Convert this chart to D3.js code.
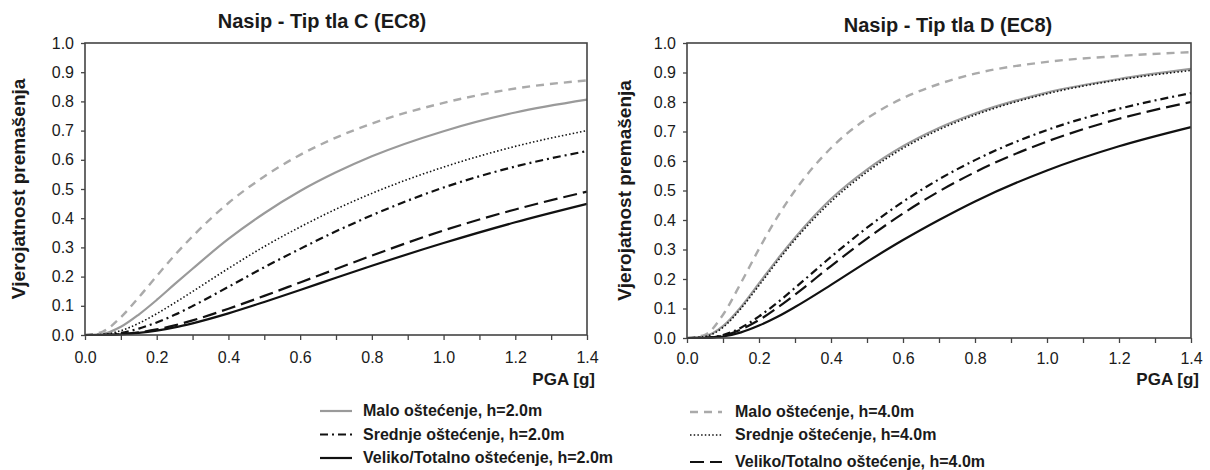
<!DOCTYPE html>
<meta charset="utf-8">
<style>
body { margin: 0; background: #fff; }
text { font-family: "Liberation Sans", Arial, sans-serif; fill: #1a1a1a; }
.tick line { stroke: #444; stroke-width: 1.3; }
.tick text { font-size: 16px; }
</style>
<body>
<script src="https://cdn.jsdelivr.net/npm/d3@7"></script>
<script>
// PGA [g] sample points
var pga = [0, 0.05, 0.1, 0.15, 0.2, 0.25, 0.3, 0.4, 0.5, 0.6, 0.7, 0.8, 1.0, 1.2, 1.4];

// Tip tla C
var cMalo2 = [0, 0.004, 0.028, 0.070, 0.120, 0.174, 0.227, 0.329, 0.417, 0.493, 0.557, 0.612, 0.698, 0.762, 0.806];
var cMalo4 = [0, 0.012, 0.061, 0.129, 0.202, 0.273, 0.338, 0.452, 0.543, 0.617, 0.676, 0.724, 0.795, 0.844, 0.872];
var cSred2 = [0, 0.001, 0.007, 0.022, 0.043, 0.069, 0.099, 0.165, 0.232, 0.295, 0.355, 0.410, 0.505, 0.577, 0.630];
var cSred4 = [0, 0.002, 0.015, 0.040, 0.073, 0.110, 0.149, 0.228, 0.303, 0.370, 0.431, 0.485, 0.575, 0.646, 0.700];
var cVel2  = [0, 0.000, 0.002, 0.007, 0.015, 0.026, 0.040, 0.074, 0.113, 0.154, 0.196, 0.237, 0.315, 0.386, 0.449];
var cVel4  = [0, 0.000, 0.003, 0.009, 0.019, 0.033, 0.050, 0.090, 0.134, 0.180, 0.226, 0.272, 0.358, 0.430, 0.491];

// Tip tla D
var dMalo2 = [0, 0.006, 0.040, 0.105, 0.185, 0.265, 0.340, 0.471, 0.571, 0.650, 0.712, 0.761, 0.832, 0.878, 0.912];
var dMalo4 = [0, 0.011, 0.079, 0.187, 0.302, 0.408, 0.500, 0.644, 0.744, 0.813, 0.861, 0.896, 0.936, 0.956, 0.969];
var dSred2 = [0, 0.001, 0.010, 0.035, 0.073, 0.119, 0.170, 0.275, 0.374, 0.462, 0.538, 0.603, 0.705, 0.777, 0.830];
var dSred4 = [0, 0.005, 0.036, 0.100, 0.178, 0.258, 0.333, 0.462, 0.563, 0.643, 0.706, 0.756, 0.828, 0.875, 0.907];
var dVel2  = [0, 0.000, 0.005, 0.019, 0.042, 0.071, 0.105, 0.180, 0.258, 0.332, 0.400, 0.463, 0.568, 0.650, 0.715];
var dVel4  = [0, 0.001, 0.008, 0.029, 0.061, 0.102, 0.147, 0.244, 0.337, 0.422, 0.497, 0.562, 0.666, 0.743, 0.800];

var xTicks = [0, 0.1, 0.2, 0.3, 0.4, 0.5, 0.6, 0.7, 0.8, 0.9, 1.0, 1.1, 1.2, 1.3, 1.4];
var xLabels = ["0.0", "", "0.2", "", "0.4", "", "0.6", "", "0.8", "", "1.0", "", "1.2", "", "1.4"];
var yTicks = [0, 0.1, 0.2, 0.3, 0.4, 0.5, 0.6, 0.7, 0.8, 0.9, 1.0];
var yLabels = ["0.0", "0.1", "0.2", "0.3", "0.4", "0.5", "0.6", "0.7", "0.8", "0.9", "1.0"];

var titles = ["Nasip - Tip tla C (EC8)", "Nasip - Tip tla D (EC8)"];
var yTitle = "Vjerojatnost premašenja";
var xTitle = "PGA [g]";
var legendLeft = ["Malo oštećenje, h=2.0m", "Srednje oštećenje, h=2.0m", "Veliko/Totalno oštećenje, h=2.0m"];
var legendRight = ["Malo oštećenje, h=4.0m", "Srednje oštećenje, h=4.0m", "Veliko/Totalno oštećenje, h=4.0m"];

// line styles
var styles = {
  malo2: { color: "#9a9a9a", width: 2.2, dash: null },
  malo4: { color: "#aaaaaa", width: 2.4, dash: "8,6" },
  sred2: { color: "#111", width: 2.2, dash: "8,4,2,4" },
  sred4: { color: "#111", width: 1.6, dash: "1.5,2.2" },
  vel2:  { color: "#111", width: 2.2, dash: null },
  vel4:  { color: "#111", width: 2.2, dash: "14,6" }
};

var svg = d3.select("body").append("svg")
    .attr("width", 1210)
    .attr("height", 470);

function drawPanel(p) {
  var x = d3.scaleLinear().domain([0, 1.4]).range([p.left, p.right]);
  var y = d3.scaleLinear().domain([0, 1]).range([p.bottom, p.top]);
  var g = svg.append("g");

  var xa = g.append("g")
      .attr("transform", "translate(0," + p.bottom + ")")
      .call(d3.axisBottom(x).tickValues(xTicks).tickSize(5).tickSizeOuter(0)
        .tickFormat(function(d, i) { return xLabels[i]; }));
  xa.select(".domain").remove();
  xa.selectAll("text").attr("y", p.tickY).attr("dy", 0);

  var ya = g.append("g")
      .attr("transform", "translate(" + p.left + ",0)")
      .call(d3.axisLeft(y).tickValues(yTicks).tickSize(4).tickSizeOuter(0)
        .tickFormat(function(d, i) { return yLabels[i]; }));
  ya.select(".domain").remove();
  ya.selectAll("text").attr("x", -11);

  var line = d3.line()
      .x(function(d, i) { return x(pga[i]); })
      .y(function(d) { return y(d); })
      .curve(d3.curveMonotoneX);

  p.series.forEach(function(s) {
    var st = styles[s.key];
    g.append("path")
        .datum(s.values)
        .attr("fill", "none")
        .attr("stroke", st.color)
        .attr("stroke-width", st.width)
        .attr("stroke-dasharray", st.dash)
        .attr("d", line);
  });

  g.append("rect")
      .attr("x", p.left).attr("y", p.top)
      .attr("width", p.right - p.left).attr("height", p.bottom - p.top)
      .attr("fill", "none").attr("stroke", "#444").attr("stroke-width", 1.6);

  g.append("text")
      .attr("x", p.titleX).attr("y", p.titleY)
      .attr("text-anchor", "middle")
      .style("font-size", "20px").style("font-weight", "bold")
      .text(p.title);

  g.append("text")
      .attr("transform", "translate(" + p.yLabelX + "," + (p.top + p.bottom) / 2 + ") rotate(-90)")
      .attr("text-anchor", "middle")
      .style("font-size", "19px").style("font-weight", "bold")
      .text(yTitle);

  g.append("text")
      .attr("x", p.right + 8).attr("y", 385)
      .attr("text-anchor", "end")
      .style("font-size", "17px").style("font-weight", "bold")
      .text(xTitle);
}

drawPanel({
  left: 85, right: 587, top: 43, bottom: 335, tickY: 28,
  title: titles[0], titleX: 322, titleY: 28, yLabelX: 25,
  series: [
    { key: "malo4", values: cMalo4 },
    { key: "malo2", values: cMalo2 },
    { key: "sred4", values: cSred4 },
    { key: "sred2", values: cSred2 },
    { key: "vel4", values: cVel4 },
    { key: "vel2", values: cVel2 }
  ]
});

drawPanel({
  left: 687, right: 1191, top: 43, bottom: 338, tickY: 26,
  title: titles[1], titleX: 948, titleY: 32, yLabelX: 631,
  series: [
    { key: "malo4", values: dMalo4 },
    { key: "malo2", values: dMalo2 },
    { key: "sred4", values: dSred4 },
    { key: "sred2", values: dSred2 },
    { key: "vel4", values: dVel4 },
    { key: "vel2", values: dVel2 }
  ]
});

// legend
function drawLegend(labels, keys, x0, x1, tx, baselines) {
  labels.forEach(function(lab, i) {
    var st = styles[keys[i]];
    svg.append("line")
        .attr("x1", x0).attr("x2", x1)
        .attr("y1", baselines[i] - 5).attr("y2", baselines[i] - 5)
        .attr("stroke", st.color)
        .attr("stroke-width", st.width)
        .attr("stroke-dasharray", st.dash);
    svg.append("text")
        .attr("x", tx).attr("y", baselines[i])
        .style("font-size", "16px").style("font-weight", "bold")
        .text(lab);
  });
}
drawLegend(legendLeft, ["malo2", "sred2", "vel2"], 320, 352, 363, [416, 439.5, 463]);
drawLegend(legendRight, ["malo4", "sred4", "vel4"], 690, 722, 735, [417, 440, 467]);
</script>
</body>
